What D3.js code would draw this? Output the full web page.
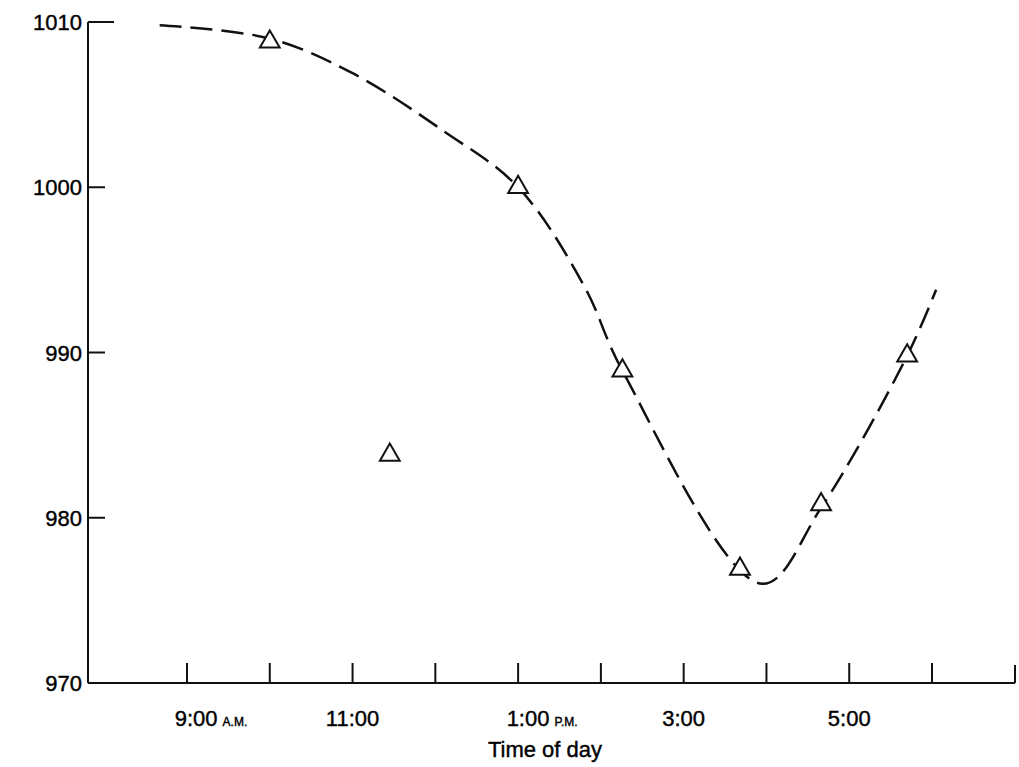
<!DOCTYPE html>
<html>
<head>
<meta charset="utf-8">
<script src="https://cdn.jsdelivr.net/npm/d3@7"></script>
<style>
  body { margin: 0; background: #fff; }
  text { font-family: "Liberation Sans", Arial, sans-serif; fill: #000; stroke: #000; stroke-width: 0.4; }
</style>
</head>
<body>
<div id="chart"></div>
<script>
const width = 1019;
const height = 767;

// hours as 24h decimal, pressure in mb
const pointHours = [10, 11.45, 13, 14.26, 15.68, 16.66, 17.7];
const pointValues = [1008.8, 983.8, 1000, 988.9, 976.9, 980.8, 989.8];
const curveHours = [8.67, 10, 11, 12.1, 13, 13.8, 14.26, 15.95, 16.66, 17.7, 18.05];
const curveValues = [1009.8, 1009.0, 1006.9, 1003.4, 1000, 994.0, 988.9, 976.0, 980.6, 989.8, 993.8];
const tickHours = [9, 10, 11, 12, 13, 14, 15, 16, 17, 18];
const tickLabels = [[9, "9:00", "A.M."], [11, "11:00", ""], [13, "1:00", "P.M."], [15, "3:00", ""], [17, "5:00", ""]];
const yTicks = [1010, 1000, 990, 980, 970];

const svg = d3.select("#chart").append("svg")
    .attr("width", width)
    .attr("height", height);

const x = d3.scaleLinear().domain([9, 18]).range([187, 932]);
const y = d3.scaleLinear().domain([970, 1010]).range([683, 22]);

// axes lines
svg.append("line").attr("x1", 88).attr("x2", 88).attr("y1", y(1010)).attr("y2", y(970))
    .attr("stroke", "#111").attr("stroke-width", 2);
svg.append("line").attr("x1", 88).attr("x2", 1015).attr("y1", y(970)).attr("y2", y(970))
    .attr("stroke", "#111").attr("stroke-width", 2);
svg.append("line").attr("x1", 1015).attr("x2", 1015).attr("y1", y(970) - 18).attr("y2", y(970))
    .attr("stroke", "#111").attr("stroke-width", 2);

svg.append("g").selectAll("line").data(yTicks.filter(d => d !== 970)).enter().append("line")
    .attr("x1", 88).attr("x2", d => d === 1010 ? 114 : 105)
    .attr("y1", d => y(d)).attr("y2", d => y(d))
    .attr("stroke", "#111").attr("stroke-width", 2);

svg.append("g").selectAll("text").data(yTicks).enter().append("text")
    .attr("x", 82).attr("y", d => y(d) + 8)
    .attr("text-anchor", "end").attr("font-size", 22)
    .text(d => d);

svg.append("g").selectAll("line").data(tickHours).enter().append("line")
    .attr("x1", d => x(d)).attr("x2", d => x(d))
    .attr("y1", y(970)).attr("y2", y(970) - 20)
    .attr("stroke", "#111").attr("stroke-width", 2);

const lbl = svg.append("g").selectAll("text").data(tickLabels).enter().append("text")
    .attr("x", d => x(d[0]) + (d[2] ? 24 : 0)).attr("y", 726)
    .attr("text-anchor", "middle").attr("font-size", 22);
lbl.append("tspan").text(d => d[1]);
lbl.append("tspan").attr("font-size", 12).attr("dx", 5).text(d => d[2]);

svg.append("text").attr("x", 545).attr("y", 757).attr("text-anchor", "middle")
    .attr("font-size", 22).text("Time of day");

// dashed curve
const line = d3.line().x((d, i) => x(curveHours[i])).y(d => y(d)).curve(d3.curveCatmullRom.alpha(0.5));
svg.append("path").attr("d", line(curveValues))
    .attr("fill", "none").attr("stroke", "#111").attr("stroke-width", 2.5)
    .attr("stroke-dasharray", "22,9");

// triangles
const tri = d3.symbol().type(d3.symbolTriangle).size(170);
svg.append("g").selectAll("path").data(pointValues).enter().append("path")
    .attr("d", tri)
    .attr("transform", (d, i) => `translate(${x(pointHours[i])},${y(d)})`)
    .attr("fill", "#fff").attr("stroke", "#111").attr("stroke-width", 2);
</script>
</body>
</html>
